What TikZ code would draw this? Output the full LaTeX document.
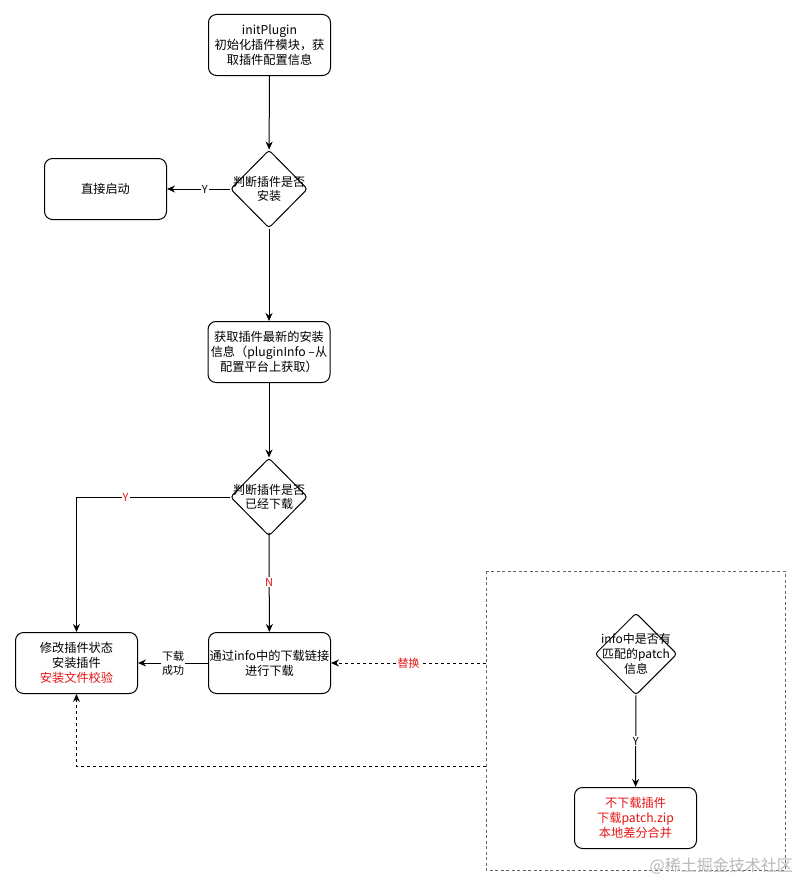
\documentclass[tikz,border=0pt]{standalone}
\usepackage{fontspec}
\setmainfont{Noto Sans CJK SC}
\usetikzlibrary{shapes.geometric,arrows.meta}
\definecolor{lblred}{RGB}{230,20,20}
\tikzset{
  box/.style={draw, rounded corners=8pt, line width=1pt, minimum width=122pt, minimum height=61pt, align=center, font=\fontsize{12.2}{14.8}\selectfont, inner sep=0pt},
  dia/.style={draw, diamond, rounded corners=3pt, line width=1pt, minimum width=77pt, minimum height=78pt, inner sep=0pt},
  dtext/.style={align=center, font=\fontsize{12}{14.8}\selectfont, inner sep=0pt},
  arr/.style={line width=1pt, -{Stealth[length=8pt,width=7pt]}},
  darr/.style={line width=1pt, dash pattern=on 3pt off 3pt, -{Stealth[length=8pt,width=7pt]}},
  lbl/.style={fill=white, inner sep=1pt, font=\fontsize{11}{14}\selectfont, align=center},
}
\begin{document}
\begin{tikzpicture}[x=1pt,y=-1pt]
\fill[white] (0,0) rectangle (800,883);
\useasboundingbox (0,0) rectangle (800,883);
% container
\draw[line width=1pt, gray!80!black, dash pattern=on 3pt off 2.5pt] (486,571) rectangle (785,870);
\coordinate (c1) at (486,663);
\coordinate (c2) at (486,766);
% nodes
\node[box] (b1) at (269.5,45) {initPlugin\\初始化插件模块，获\\取插件配置信息};
\node[dia] (d1) at (269,189) {};
\node[dtext] (d1t) at (269,189) {判断插件是否\\安装};
\node[box] (st) at (105.5,189) {直接启动};
\node[box] (b3) at (269,352) {获取插件最新的安装\\信息（pluginInfo –从\\配置平台上获取）};
\node[dia] (d2) at (269,497) {};
\node[dtext] (d2t) at (269,497) {判断插件是否\\已经下载};
\node[box] (m) at (76.5,663) {修改插件状态\\安装插件\\\textcolor{lblred}{安装文件校验}};
\node[box] (dl) at (269.5,663) {通过info中的下载链接\\进行下载};
\node[dia, minimum width=82pt, minimum height=82pt] (d3) at (636,654) {};
\node[dtext] (d3t) at (636,654) {info中是否有\\匹配的patch\\信息};
\node[box, text=lblred] (p) at (635.5,818) {不下载插件\\下载patch.zip\\本地差分合并};
% edges
\draw[arr] (b1) -- (d1);
\draw[arr] (d1) -- node[lbl, pos=0.4] {Y} (st);
\draw[arr] (d1) -- (b3);
\draw[arr] (b3) -- (d2);
\draw[arr] (d2.west) -| node[lbl, pos=0.34, text=lblred] {Y} (m.north);
\draw[arr] ([yshift=4pt]d2.south) -- node[lbl, text=lblred] {N} (dl);
\draw[arr] (dl) -- node[lbl] {下载\\成功} (m);
\draw[darr] (c1) -- node[lbl, text=lblred] {替换} (dl);
\draw[darr] (c2) -| (m.south);
\draw[arr] (d3) -- node[lbl] {Y} (p);
% watermark
\node[text=gray!55, font=\fontsize{16}{18}\selectfont, anchor=east, inner sep=0pt] (wm) at (793,866) {@稀土掘金技术社区};
\end{tikzpicture}
\end{document}
